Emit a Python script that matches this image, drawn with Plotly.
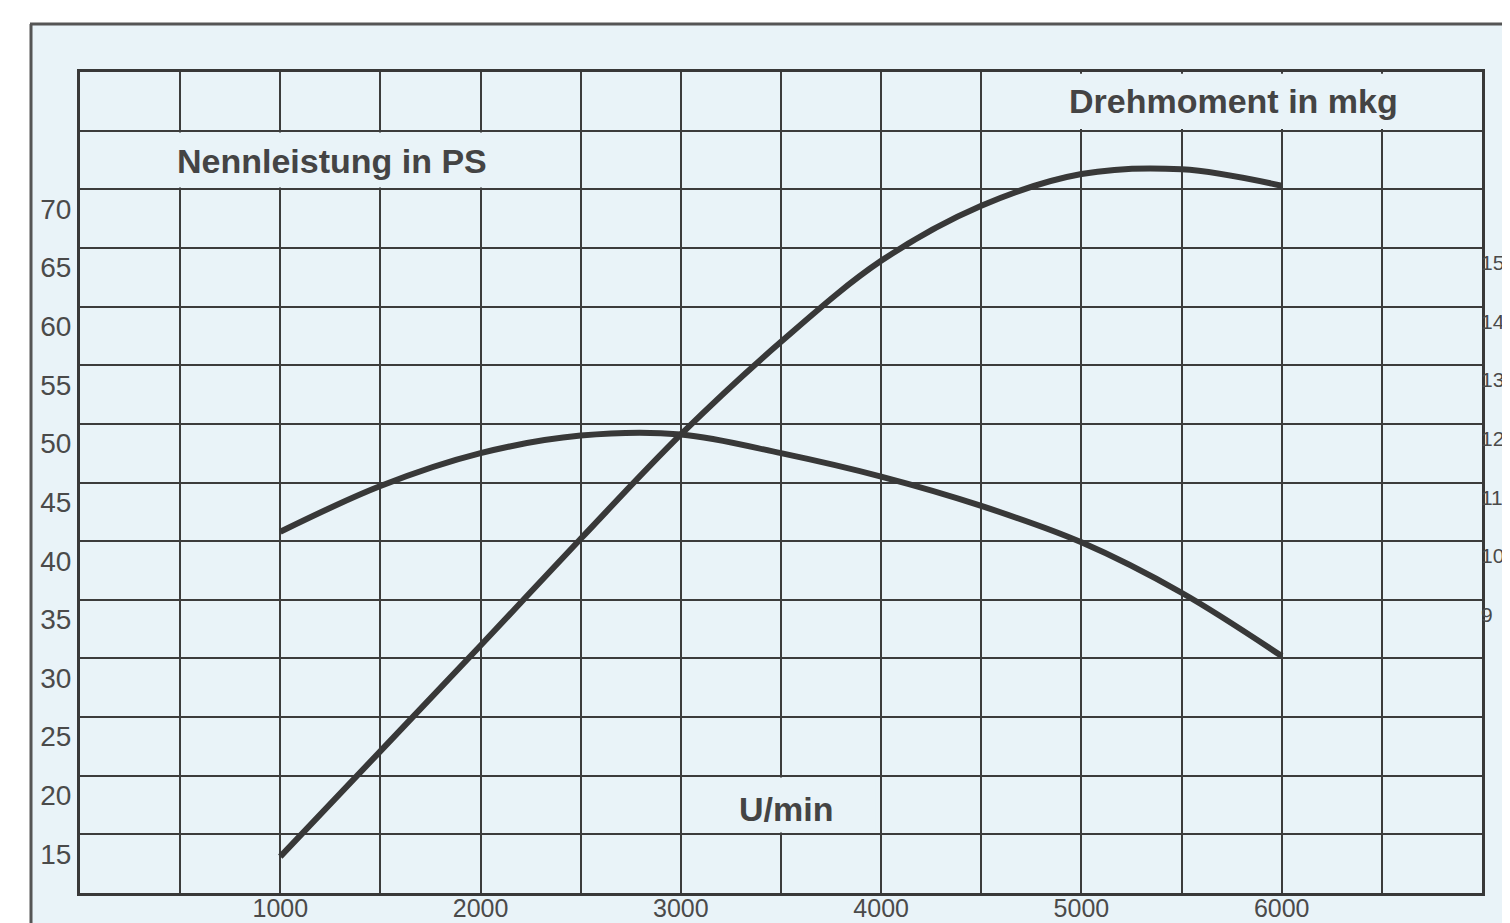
import plotly.graph_objects as go

# ---- data ----
rpm_power = [1000, 1500, 2000, 2500, 3000, 3500, 4000, 4500, 5000, 5500, 6000]
power_ps = [13.1, 22.1, 31.1, 40.2, 49.1, 57.0, 63.9, 68.6, 71.3, 71.7, 70.3]

rpm_torque = [1000, 1500, 2000, 2500, 3000, 3500, 4000, 4500, 5000, 5500, 6000]
torque_mkg = [10.16, 10.94, 11.5, 11.8, 11.82, 11.5, 11.1, 10.6, 9.98, 9.12, 8.04]

x_tickvals = [0, 500, 1000, 1500, 2000, 2500, 3000, 3500, 4000, 4500, 5000, 5500, 6000, 6500, 7000]
x_ticktext = ["", "", "1000", "", "2000", "", "3000", "", "4000", "", "5000", "", "6000", "", ""]

ps_tickvals = [10, 15, 20, 25, 30, 35, 40, 45, 50, 55, 60, 65, 70, 75, 80]
ps_ticktext = ["", "15", "20", "25", "30", "35", "40", "45", "50", "55", "60", "65", "70", "", ""]

mkg_tickvals = [9, 10, 11, 12, 13, 14, 15]
mkg_ticktext = ["9", "10", "11", "12", "13", "14", "15"]

label_power = "Nennleistung in PS"
label_torque = "Drehmoment in mkg"
label_x = "U/min"

BG = "#e9f3f8"
INK = "#383838"
GRID = "#3c3c3c"
FONT = "Liberation Sans, Arial, sans-serif"

# the page body adds an 8px margin; the figure is sized so the plot area
# lands at page pixels x 80..1482, y 72..893
PAD = 8

fig = go.Figure()

fig.add_trace(go.Scatter(
    x=rpm_power, y=power_ps, mode="lines", name="PS",
    line=dict(color=INK, width=6, shape="spline", smoothing=1.0),
    showlegend=False, yaxis="y"))

fig.add_trace(go.Scatter(
    x=rpm_torque, y=torque_mkg, mode="lines", name="mkg",
    line=dict(color=INK, width=6, shape="spline", smoothing=1.0),
    showlegend=False, yaxis="y2"))

fig.update_layout(
    width=1510 - PAD, height=923 - PAD,
    margin=dict(l=80 - PAD, r=28, t=72 - PAD, b=30, autoexpand=False),
    paper_bgcolor="white",
    plot_bgcolor=BG,
    font=dict(family=FONT, color="#454545", size=27),
    xaxis=dict(
        range=[0, 7000], tickvals=x_tickvals, ticktext=x_ticktext,
        showgrid=True, gridcolor=GRID, gridwidth=2,
        showline=True, linecolor=INK, linewidth=3, mirror=True,
        ticks="", zeroline=False, ticklabelstandoff=-9,
        tickfont=dict(size=25, color="#4a4a4a"),
    ),
    yaxis=dict(
        range=[10, 80], tickvals=ps_tickvals, ticktext=ps_ticktext,
        showgrid=True, gridcolor=GRID, gridwidth=2,
        showline=True, linecolor=INK, linewidth=3, mirror=True,
        ticks="", zeroline=False, ticklabelposition="outside bottom",
        tickfont=dict(size=28, color="#4a4a4a"),
    ),
    yaxis2=dict(
        range=[4, 18], tickvals=mkg_tickvals, ticktext=mkg_ticktext,
        overlaying="y", side="right", showgrid=False, zeroline=False,
        ticks="", ticklabelposition="outside bottom", ticklabelstandoff=-2,
        tickfont=dict(size=21, color="#4a4a4a"),
    ),
)

# scanned page frame (light tinted paper inside the outer rule)
fig.add_shape(type="rect", xref="paper", yref="paper",
              x0=(30 - 80) / 1402, x1=(1515 - 80) / 1402,
              y0=-(930 - 893) / 821, y1=1 + (72 - 25) / 821,
              fillcolor=BG, line=dict(width=0), layer="below")
fig.add_shape(type="line", xref="paper", yref="paper",
              x0=(30 - 80) / 1402, x1=(1515 - 80) / 1402,
              y0=1 + (72 - 24) / 821, y1=1 + (72 - 24) / 821,
              line=dict(color="#555555", width=3), layer="below")
fig.add_shape(type="line", xref="paper", yref="paper",
              x0=(31 - 80) / 1402, x1=(31 - 80) / 1402,
              y0=-(930 - 893) / 821, y1=1 + (72 - 24) / 821,
              line=dict(color="#555555", width=3), layer="below")

# label cells where grid lines are interrupted
for x0, x1, y0, y1 in [(15, 2480, 70.15, 74.85),
                       (4520, 6985, 75.15, 79.85),
                       (3030, 3970, 15.15, 19.85)]:
    fig.add_shape(type="rect", xref="x", yref="y", x0=x0, x1=x1, y0=y0, y1=y1,
                  fillcolor=BG, line=dict(width=0), layer="between")

fig.add_annotation(x=1260, y=72.4, xref="x", yref="y", text="<b>" + label_power + "</b>",
                   showarrow=False, font=dict(size=34, color="#444444", family=FONT))
fig.add_annotation(x=5760, y=77.5, xref="x", yref="y", text="<b>" + label_torque + "</b>",
                   showarrow=False, font=dict(size=34, color="#444444", family=FONT))
fig.add_annotation(x=3525, y=17.2, xref="x", yref="y", text="<b>" + label_x + "</b>",
                   showarrow=False, font=dict(size=34, color="#444444", family=FONT))

fig.write_html("out.html")
